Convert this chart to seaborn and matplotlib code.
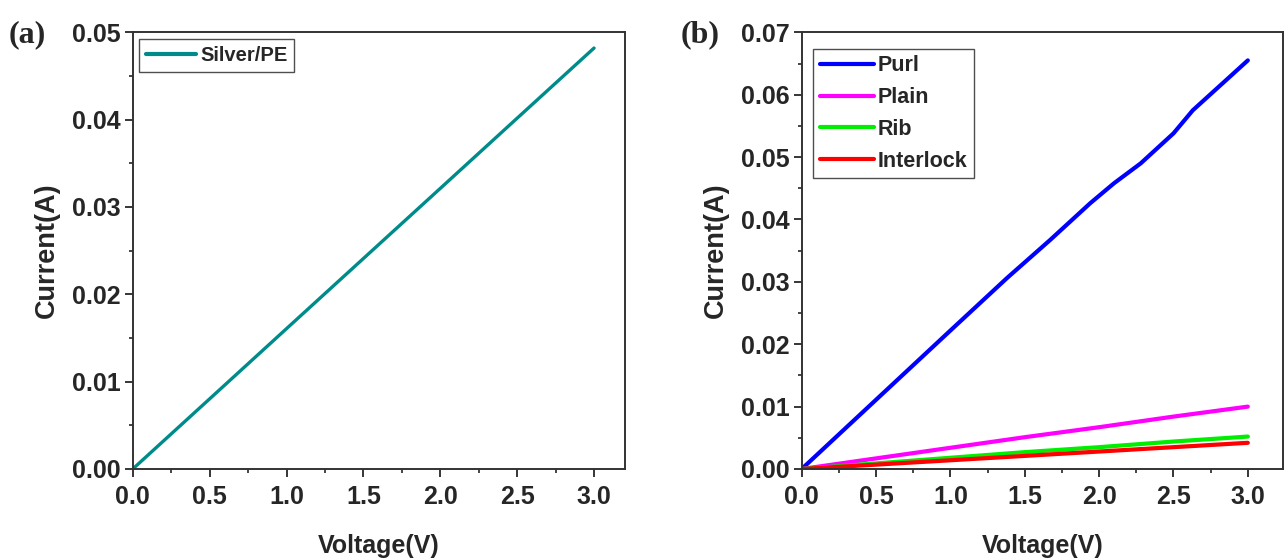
import pandas as pd
import numpy as np
import matplotlib
matplotlib.use('Agg')
import matplotlib.pyplot as plt
from matplotlib.ticker import MultipleLocator, FormatStrFormatter
import seaborn as sns

# panel (a): silver/PE sample
volt_a = [0.0, 0.5, 1.0, 1.5, 2.0, 2.5, 3.0]
curr_silver = [0.0, 0.00803, 0.01607, 0.0241, 0.03213, 0.04017, 0.0482]

# panel (b): knit structures
volt_purl = [0.0, 0.5, 1.0, 1.38, 1.67, 1.94, 2.1, 2.28, 2.5, 2.63, 2.88, 3.0]
curr_purl = [0.0, 0.0111, 0.0222, 0.0306, 0.0367, 0.0426, 0.0458, 0.0490, 0.0538,
             0.0575, 0.0629, 0.0655]
volt_b = [0.0, 0.5, 1.0, 1.5, 2.0, 2.5, 3.0]
curr_plain = [0.0, 0.0017, 0.0034, 0.0051, 0.0067, 0.0084, 0.0100]
curr_rib = [0.0, 0.0009, 0.0018, 0.0027, 0.0035, 0.0044, 0.0052]
curr_interlock = [0.0, 0.0007, 0.0014, 0.0021, 0.0028, 0.0035, 0.0042]

series_names = ['Purl', 'Plain', 'Rib', 'Interlock']
series_colors = ['#0000ff', '#ff00ff', '#00ee00', '#ff0000']

sns.set_theme(style='white')
plt.rcParams['font.family'] = ['Liberation Sans', 'DejaVu Sans']
plt.rcParams['font.weight'] = 'bold'

fig = plt.figure(figsize=(12.85, 5.6), dpi=100)
ax1 = fig.add_axes([0.1033, 0.1625, 0.3827, 0.7798])
ax2 = fig.add_axes([0.6239, 0.1625, 0.3746, 0.7798])

df_a = pd.DataFrame({'Voltage': volt_a, 'Current': curr_silver, 'Sample': 'Silver/PE'})
sns.lineplot(data=df_a, x='Voltage', y='Current', hue='Sample', palette=['#008b8b'],
             linewidth=2.4, ax=ax1)

frames = [
    pd.DataFrame({'Voltage': volt_purl, 'Current': curr_purl, 'Sample': 'Purl'}),
    pd.DataFrame({'Voltage': volt_b, 'Current': curr_plain, 'Sample': 'Plain'}),
    pd.DataFrame({'Voltage': volt_b, 'Current': curr_rib, 'Sample': 'Rib'}),
    pd.DataFrame({'Voltage': volt_b, 'Current': curr_interlock, 'Sample': 'Interlock'}),
]
df_b = pd.concat(frames, ignore_index=True)
sns.lineplot(data=df_b, x='Voltage', y='Current', hue='Sample', hue_order=series_names,
             palette=series_colors, linewidth=3, ax=ax2)

setup = [
    (ax1, 3.198, 0.05, (0.012, 0.985), 14.5, 0.35, 0.1),
    (ax2, 3.237, 0.07, (0.024, 0.962), 15.5, 0.3, 0.5),
]
for ax, xmax, ymax, anchor, lfs, bpad, lspace in setup:
    ax.set_xlim(0, xmax)
    ax.set_ylim(0, ymax)
    ax.xaxis.set_major_locator(MultipleLocator(0.5))
    ax.xaxis.set_minor_locator(MultipleLocator(0.25))
    ax.yaxis.set_major_locator(MultipleLocator(0.01))
    ax.yaxis.set_minor_locator(MultipleLocator(0.005))
    ax.xaxis.set_major_formatter(FormatStrFormatter('%.1f'))
    ax.yaxis.set_major_formatter(FormatStrFormatter('%.2f'))
    ax.tick_params(which='major', direction='out', length=5.5, width=1.3,
                   labelsize=18, bottom=True, left=True, top=False, right=False)
    ax.tick_params(which='minor', direction='out', length=3, width=1.2,
                   bottom=True, left=True, top=False, right=False)
    ax.tick_params(axis='x', which='major', pad=6)
    ax.tick_params(axis='y', which='major', pad=3)
    for s in ax.spines.values():
        s.set_color('#333333')
        s.set_linewidth(1.4)
    ax.set_xlabel('Voltage(V)', fontsize=18, fontweight='bold', labelpad=18)
    ax.set_ylabel('Current(A)', fontsize=19.5, fontweight='bold', labelpad=9)
    leg = ax.legend(loc='upper left', bbox_to_anchor=anchor, fontsize=lfs, frameon=True,
                    fancybox=False, handlelength=2.5, handletextpad=0.2,
                    borderpad=bpad, labelspacing=lspace, borderaxespad=0)
    leg.get_frame().set_edgecolor('#222222')
    leg.get_frame().set_linewidth(1.0)
    for h in leg.get_lines():
        h.set_linewidth(3)
    for t in leg.get_texts():
        t.set_fontweight('bold')

fig.text(0.007, 0.925, '(a)', fontsize=23, fontweight='bold', va='baseline',
         family=['Liberation Serif', 'DejaVu Serif'])
fig.text(0.5297, 0.925, '(b)', fontsize=23, fontweight='bold', va='baseline',
         family=['Liberation Serif', 'DejaVu Serif'])

fig.savefig('out.png', dpi=100)
